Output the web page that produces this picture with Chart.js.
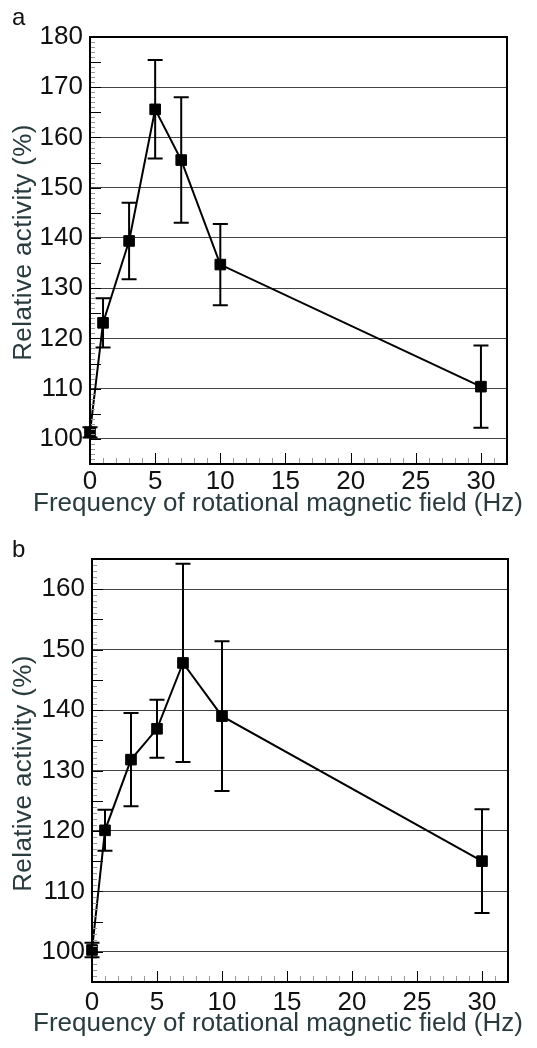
<!DOCTYPE html>
<html>
<head>
<meta charset="utf-8">
<script src="https://cdn.jsdelivr.net/npm/chart.js@4.4.1/dist/chart.umd.min.js"></script>
<style>
body { margin: 0; background: #fff; width: 537px; height: 1048px; position: relative; overflow: hidden; font-family: "Liberation Sans", Arial, sans-serif; }
.panel { position: absolute; left: 0; width: 537px; }
.panel canvas { display: block; }
.etiqueta { position: absolute; left: 12px; font-size: 24px; line-height: 1; color: #111; }
</style>
</head>
<body>
<div class="panel" style="top:0;height:520px"><canvas id="graficoA" width="537" height="520"></canvas></div>
<div class="panel" style="top:520px;height:528px"><canvas id="graficoB" width="537" height="528"></canvas></div>
<div class="etiqueta" style="top:5px">a</div>
<div class="etiqueta" style="top:537px">b</div>
<script>
// frecuencias (Hz) y actividad relativa (%)
const frecuencias = [0, 1, 3, 5, 7, 10, 30];
const actividadA = [101.3, 123.1, 139.4, 165.6, 155.5, 134.7, 110.4];
const errorA = [1.0, 4.9, 7.6, 9.8, 12.5, 8.1, 8.2];
const actividadB = [100.3, 120.1, 131.8, 136.9, 147.8, 139.0, 115.0];
const errorB = [1.2, 3.4, 7.7, 4.8, 16.4, 12.4, 8.6];
const ticksX = [0, 5, 10, 15, 20, 25, 30];
const ticksYA = [100, 110, 120, 130, 140, 150, 160, 170, 180];
const ticksYB = [100, 110, 120, 130, 140, 150, 160];

Chart.defaults.font.family = "'Liberation Sans', Arial, sans-serif";

// el titulo del eje x es mas ancho que el area: se centra en "centro" sin comprimirlo
function tituloX(s, centro) {
    if (s.tituloAjustado) return;
    s.tituloAjustado = true;
    const original = s.drawTitle;
    s.drawTitle = function () {
        const l = this.left, r = this.right;
        this.left = centro - 268;
        this.right = centro + 268;
        original.call(this);
        this.left = l;
        this.right = r;
    };
}

// desplaza el titulo del eje y
function tituloY(s, dy) {
    if (s.tituloAjustado) return;
    s.tituloAjustado = true;
    const original = s.drawTitle;
    s.drawTitle = function () {
        const ctx = this.ctx;
        ctx.save();
        ctx.translate(0, dy);
        ctx.letterSpacing = '0.4px';
        original.call(this);
        ctx.restore();
    };
}

// barras de error, marco y marcas menores hacia adentro
const marcoYBarras = {
    id: 'marcoYBarras',
    beforeDatasetsDraw(chart, args, opts) {
        const { ctx, scales: { x, y } } = chart;
        const serie = chart.data.datasets[0].data;
        ctx.save();
        ctx.strokeStyle = '#000';
        ctx.lineWidth = 2;
        serie.forEach(function (p, i) {
            const px = x.getPixelForValue(p.x);
            const arriba = y.getPixelForValue(p.y + opts.errores[i]);
            const abajo = y.getPixelForValue(p.y - opts.errores[i]);
            ctx.beginPath();
            ctx.moveTo(px, arriba); ctx.lineTo(px, abajo);
            ctx.moveTo(px - 7.5, arriba); ctx.lineTo(px + 7.5, arriba);
            ctx.moveTo(px - 7.5, abajo); ctx.lineTo(px + 7.5, abajo);
            ctx.stroke();
        });
        ctx.restore();
    },
    afterDraw(chart) {
        const { ctx, chartArea: a, scales: { x, y } } = chart;
        ctx.save();
        ctx.lineWidth = 1;
        for (let v = Math.ceil(y.min); v <= y.max; v++) {
            const py = Math.round(y.getPixelForValue(v)) + 0.5;
            const mayor = v % 5 === 0;
            ctx.strokeStyle = mayor ? '#000' : '#999';
            ctx.beginPath();
            ctx.moveTo(a.left, py);
            ctx.lineTo(a.left + (mayor ? 11 : 5), py);
            ctx.stroke();
        }
        for (let v = Math.ceil(x.min); v <= x.max; v++) {
            const px = Math.round(x.getPixelForValue(v)) + 0.5;
            const mayor = v % 5 === 0;
            ctx.strokeStyle = mayor ? '#000' : '#999';
            ctx.beginPath();
            ctx.moveTo(px, a.bottom);
            ctx.lineTo(px, a.bottom - (mayor ? 11 : 6));
            ctx.stroke();
        }
        ctx.strokeStyle = '#000';
        ctx.lineWidth = 2;
        ctx.strokeRect(a.left, a.top, a.right - a.left, a.bottom - a.top);
        ctx.restore();
    }
};

function crearGrafico(id, actividad, errores, ticksY, yMax, cfg) {
    return new Chart(document.getElementById(id), {
        type: 'scatter',
        data: {
            datasets: [{
                data: frecuencias.map(function (f, i) { return { x: f, y: actividad[i] }; }),
                showLine: true,
                borderColor: '#000',
                borderWidth: 2,
                pointStyle: 'rect',
                pointRadius: 7.5,
                pointBackgroundColor: '#000',
                pointBorderColor: '#000',
                pointBorderWidth: 1,
                clip: false
            }]
        },
        options: {
            responsive: false,
            animation: false,
            devicePixelRatio: 1,
            layout: { padding: { top: cfg.arriba, right: cfg.derecha, bottom: cfg.abajo, left: 0 } },
            plugins: {
                legend: { display: false },
                tooltip: { enabled: false },
                marcoYBarras: { errores: errores }
            },
            scales: {
                x: {
                    type: 'linear',
                    min: 0,
                    max: 32,
                    afterBuildTicks: function (s) { s.ticks = ticksX.map(function (v) { return { value: v }; }); },
                    afterFit: function (s) {
                        s.height = cfg.altoX;
                        tituloX(s, 278);
                    },
                    grid: { display: false, drawTicks: false },
                    border: { display: false },
                    ticks: { color: '#111', font: { size: 26 }, padding: cfg.padX, maxRotation: 0, autoSkip: false },
                    title: { display: true, text: 'Frequency of rotational magnetic field (Hz)', color: '#2a3b3e', font: { size: 26 }, padding: { top: 0, bottom: 1 } }
                },
                y: {
                    min: 95,
                    max: yMax,
                    afterBuildTicks: function (s) { s.ticks = ticksY.map(function (v) { return { value: v }; }); },
                    afterFit: function (s) {
                        s.width = cfg.anchoY;
                        tituloY(s, cfg.movY);
                    },
                    grid: { color: '#444', lineWidth: 1, drawTicks: false },
                    border: { display: false },
                    ticks: { color: '#111', font: { size: 26 }, padding: 7, autoSkip: false },
                    title: { display: true, text: 'Relative activity (%)', color: '#2a3b3e', font: { size: 26 }, padding: { top: 8, bottom: 0 } }
                }
            }
        },
        plugins: [marcoYBarras]
    });
}

crearGrafico('graficoA', actividadA, errorA, ticksYA, 180, { arriba: 37, derecha: 30, abajo: 0, altoX: 56, anchoY: 90, padX: 2, movY: -8 });
crearGrafico('graficoB', actividadB, errorB, ticksYB, 165, { arriba: 39, derecha: 29, abajo: 8, altoX: 58, anchoY: 92, padX: 5, movY: 3 });
</script>
</body>
</html>
